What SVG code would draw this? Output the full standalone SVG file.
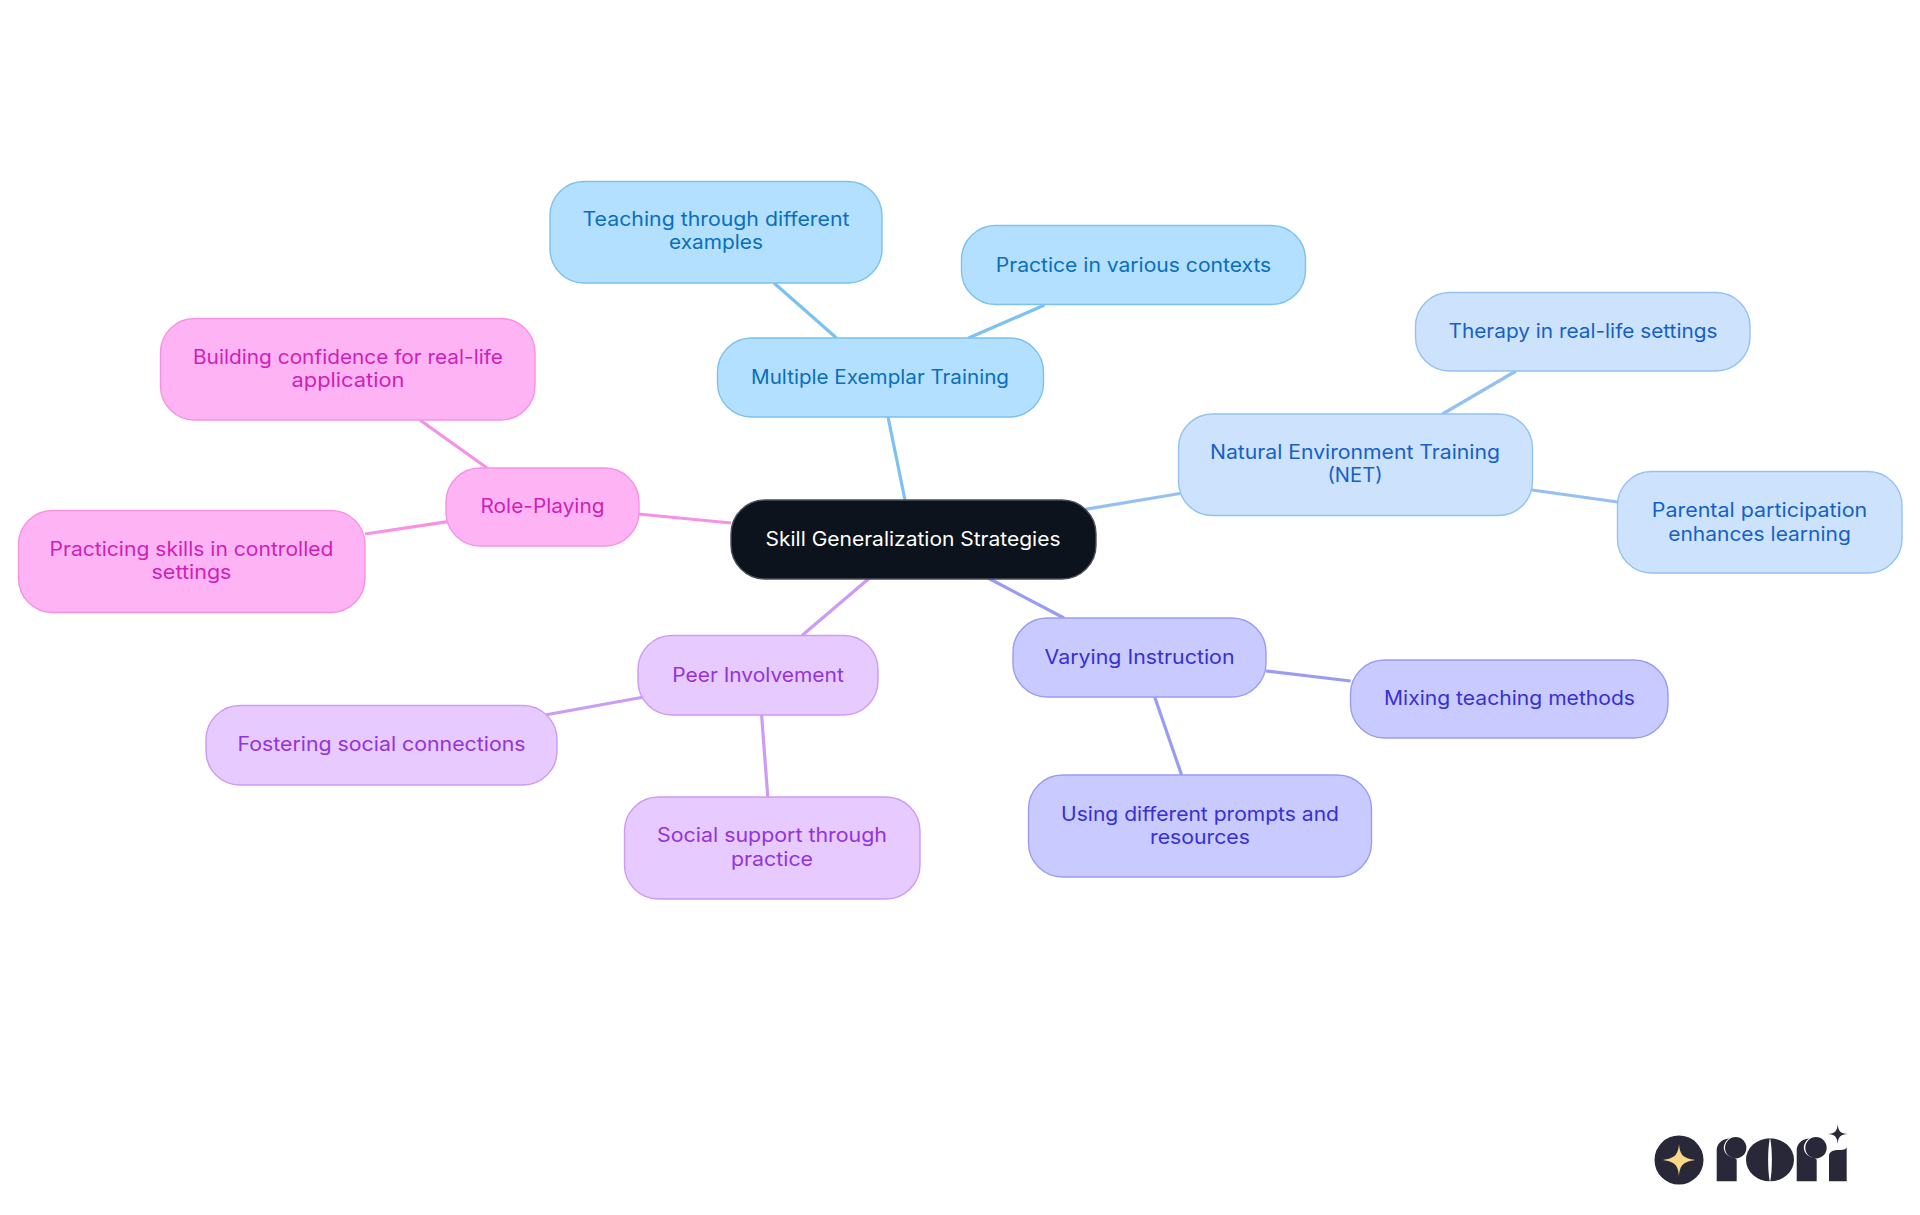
<svg xmlns="http://www.w3.org/2000/svg" width="1920" height="1215" viewBox="0 0 1920 1215">
<style>
text{font-family:"Inter","Noto Sans","Liberation Sans",sans-serif;font-size:19.6px;text-anchor:middle}
rect{rx:34px;ry:34px;stroke-width:1.4}
.conn line{stroke-width:3.2;fill:none}
.root rect{fill:#0c131c;stroke:#4a4f57}.root text{fill:#fff}
.a rect{fill:#b3e0ff;stroke:#7bc1f1}.a text{fill:#0a6ebd}.la{stroke:#7bc1f1}
.b rect{fill:#cde3fd;stroke:#94c1f2}.b text{fill:#1560c8}.lb{stroke:#94c1f2}
.c rect{fill:#c9caff;stroke:#9a9cf4}.c text{fill:#3730d4}.lc{stroke:#9a9cf4}
.d rect{fill:#e7caff;stroke:#cb9bf5}.d text{fill:#9333dd}.ld{stroke:#cb9bf5}
.e rect{fill:#feb3f5;stroke:#f592e4}.e text{fill:#cf1fb5}.le{stroke:#f592e4}
</style>
<rect x="0" y="0" width="1920" height="1215" style="fill:#fff;stroke:none;rx:0;ry:0"/>
<g id="connectors" class="conn">
<line class="la" x1="888" y1="417" x2="905" y2="500"/>
<line class="la" x1="774" y1="283" x2="836.5" y2="338"/>
<line class="la" x1="1044.5" y1="305" x2="968.6" y2="338"/>
<line class="lb" x1="1085" y1="509.4" x2="1180" y2="493.5"/>
<line class="lb" x1="1442.5" y1="414" x2="1516" y2="371"/>
<line class="lb" x1="1532" y1="490" x2="1617.6" y2="502"/>
<line class="lc" x1="988" y1="578" x2="1064" y2="618"/>
<line class="lc" x1="1266" y1="671" x2="1350.6" y2="681"/>
<line class="lc" x1="1154.7" y1="697" x2="1181.6" y2="775"/>
<line class="ld" x1="869.5" y1="578" x2="802" y2="635.5"/>
<line class="ld" x1="644" y1="697" x2="545" y2="715"/>
<line class="ld" x1="761.6" y1="715" x2="767.8" y2="797"/>
<line class="le" x1="731" y1="523" x2="638" y2="514"/>
<line class="le" x1="487" y1="468" x2="420" y2="420"/>
<line class="le" x1="448" y1="521.6" x2="365" y2="534"/>
</g>
<g id="root" class="root"><rect x="731" y="500" width="365" height="79"/><text x="913" y="546" textLength="295" lengthAdjust="spacingAndGlyphs">Skill Generalization Strategies</text></g>
<g id="multiple" class="a"><rect x="717.5" y="338" width="326" height="79"/><text x="880" y="383.5" textLength="258" lengthAdjust="spacingAndGlyphs">Multiple Exemplar Training</text></g>
<g id="teaching" class="a"><rect x="550" y="181.5" width="332" height="101.5"/><text x="716" y="225.7" textLength="267" lengthAdjust="spacingAndGlyphs">Teaching through different</text><text x="716" y="249.3" textLength="94" lengthAdjust="spacingAndGlyphs">examples</text></g>
<g id="practice" class="a"><rect x="961.5" y="225.5" width="344" height="79"/><text x="1133.5" y="271.5" textLength="275.5" lengthAdjust="spacingAndGlyphs">Practice in various contexts</text></g>
<g id="net" class="b"><rect x="1178.5" y="414" width="354" height="101.5"/><text x="1355" y="458.7" textLength="290" lengthAdjust="spacingAndGlyphs">Natural Environment Training</text><text x="1355" y="482.3" textLength="55" lengthAdjust="spacingAndGlyphs">(NET)</text></g>
<g id="therapy" class="b"><rect x="1415.5" y="292.5" width="334.5" height="78.5"/><text x="1583" y="338" textLength="269" lengthAdjust="spacingAndGlyphs">Therapy in real-life settings</text></g>
<g id="parental" class="b"><rect x="1617.5" y="471.5" width="284.5" height="101.5"/><text x="1759.5" y="517" textLength="215.5" lengthAdjust="spacingAndGlyphs">Parental participation</text><text x="1759.5" y="541" textLength="182.5" lengthAdjust="spacingAndGlyphs">enhances learning</text></g>
<g id="varying" class="c"><rect x="1013" y="618" width="253" height="79"/><text x="1139.5" y="664" textLength="190" lengthAdjust="spacingAndGlyphs">Varying Instruction</text></g>
<g id="mixing" class="c"><rect x="1350.5" y="660" width="317.5" height="78"/><text x="1509.5" y="705" textLength="251" lengthAdjust="spacingAndGlyphs">Mixing teaching methods</text></g>
<g id="using" class="c"><rect x="1028.5" y="775" width="343" height="102"/><text x="1200" y="820.7" textLength="278" lengthAdjust="spacingAndGlyphs">Using different prompts and</text><text x="1200" y="844.3" textLength="100" lengthAdjust="spacingAndGlyphs">resources</text></g>
<g id="peer" class="d"><rect x="638" y="635.5" width="240" height="79.5"/><text x="758" y="681.5" textLength="171.5" lengthAdjust="spacingAndGlyphs">Peer Involvement</text></g>
<g id="fostering" class="d"><rect x="206" y="705.5" width="351" height="79.5"/><text x="381.5" y="750.5" textLength="288" lengthAdjust="spacingAndGlyphs">Fostering social connections</text></g>
<g id="social" class="d"><rect x="624.5" y="797" width="295.5" height="102"/><text x="772" y="841.5" textLength="230" lengthAdjust="spacingAndGlyphs">Social support through</text><text x="772" y="865.5" textLength="82" lengthAdjust="spacingAndGlyphs">practice</text></g>
<g id="role" class="e"><rect x="446" y="468" width="193" height="78"/><text x="542.5" y="512.5" textLength="124" lengthAdjust="spacingAndGlyphs">Role-Playing</text></g>
<g id="building" class="e"><rect x="160.5" y="318.5" width="374.5" height="101.5"/><text x="348" y="363.7" textLength="310" lengthAdjust="spacingAndGlyphs">Building confidence for real-life</text><text x="348" y="387.3" textLength="113" lengthAdjust="spacingAndGlyphs">application</text></g>
<g id="practicing" class="e"><rect x="18.5" y="510.5" width="346.5" height="102"/><text x="191.5" y="555.7" textLength="284" lengthAdjust="spacingAndGlyphs">Practicing skills in controlled</text><text x="191.5" y="579.3" textLength="80" lengthAdjust="spacingAndGlyphs">settings</text></g>
<g id="logo">
<circle cx="1679" cy="1160" r="24.5" fill="#292838"/>
<path d="M1679 1144 C1680 1155 1683 1158 1695 1160 C1683 1162 1680 1165 1679 1176 C1678 1165 1675 1162 1663 1160 C1675 1158 1678 1155 1679 1144Z" fill="#fbd78a"/>
<path d="M1716.7 1181.3V1150C1716.7 1145 1721 1139 1729 1138.5C1722.5 1143 1722 1151 1728 1155.5C1731.5 1158 1736.7 1158 1736.7 1160V1181.3Z" fill="#292838"/>
<circle cx="1735.7" cy="1147.7" r="10.7" fill="#292838"/>
<ellipse cx="1770" cy="1159.8" rx="24" ry="21.5" fill="#292838"/>
<path d="M1770 1137C1767.5 1150 1767.5 1170 1770 1183C1772.5 1170 1772.5 1150 1770 1137Z" fill="#fff"/>
<path d="M1796.7 1181.3V1150C1796.7 1145 1801 1139 1809 1138.5C1802.5 1143 1802 1151 1808 1155.5C1811.5 1158 1816.7 1158 1816.7 1160V1181.3Z" fill="#292838"/>
<circle cx="1816" cy="1147.7" r="10.7" fill="#292838"/>
<path d="M1829 1181.3V1156C1829 1152 1833 1150 1838 1150C1842 1150 1846.7 1150 1846.7 1146.5V1181.3Z" fill="#292838"/>
<path d="M1837.7 1124C1838.3 1131 1840 1133.4 1848 1134C1840 1134.6 1838.3 1137 1837.7 1144C1837.1 1137 1835.4 1134.6 1827.5 1134C1835.4 1133.4 1837.1 1131 1837.7 1124Z" fill="#292838"/>
</g>
</svg>
